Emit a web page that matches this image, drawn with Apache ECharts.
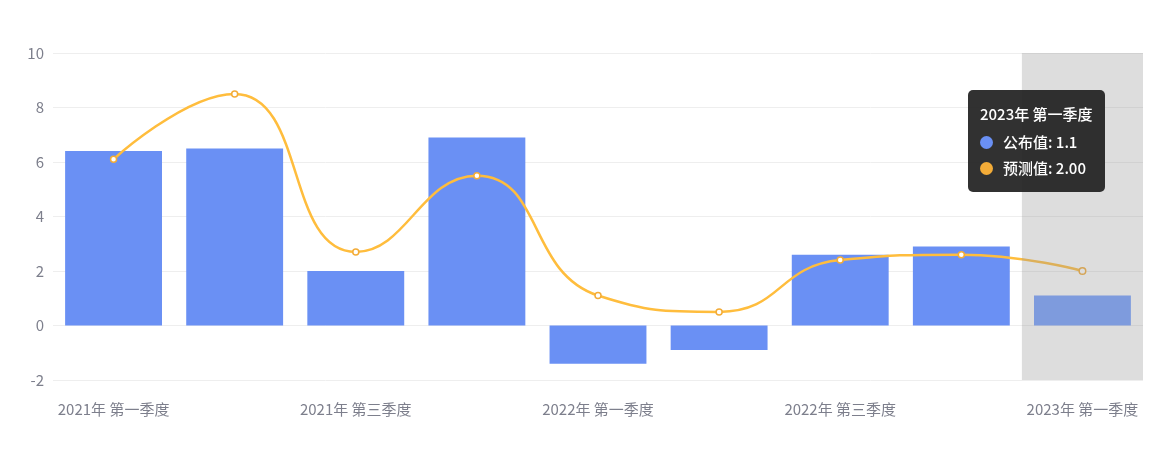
<!DOCTYPE html>
<html>
<head>
<meta charset="utf-8">
<script src="https://cdn.jsdelivr.net/npm/echarts@6/dist/echarts.min.js"></script>
<style>
    html, body { margin: 0; padding: 0; background: #fff; }
    #main { width: 1170px; height: 450px; }
</style>
</head>
<body>
<div id="main"></div>
<script type="text/javascript">
    // 季度
    var quarters = ['2021年 第一季度', '2021年 第二季度', '2021年 第三季度', '2021年 第四季度',
        '2022年 第一季度', '2022年 第二季度', '2022年 第三季度', '2022年 第四季度', '2023年 第一季度'];
    // 公布值
    var published = [6.4, 6.5, 2.0, 6.9, -1.4, -0.9, 2.6, 2.9, 1.1];
    // 预测值
    var forecast = [6.1, 8.5, 2.7, 5.5, 1.1, 0.5, 2.4, 2.6, 2.0];
    var yTicks = { min: -2, max: 10, interval: 2 };

    var blue = '#6a90f4';
    var orange = '#f3ac38';
    var font = '"Noto Sans CJK SC", "Noto Sans", sans-serif';

    function dot(color) {
        return '<span style="display:inline-block;width:13px;height:13px;border-radius:50%;background:' +
            color + ';margin-right:10px;vertical-align:-1px;"></span>';
    }

    var myChart = echarts.init(document.getElementById('main'));
    var option = {
        animation: false,
        textStyle: { fontFamily: font },
        grid: { left: 53, right: 27, top: 53, bottom: 70 },
        tooltip: {
            trigger: 'axis',
            axisPointer: { type: 'shadow', shadowStyle: { color: 'rgba(150,150,150,0.32)' } },
            backgroundColor: 'rgba(36,36,36,0.94)',
            borderWidth: 0,
            padding: [11, 12, 11, 12],
            position: [968, 90],
            textStyle: { color: '#fff', fontSize: 15, fontFamily: font },
            extraCssText: 'border-radius:5px;box-shadow:none;line-height:26px;font-weight:500;',
            formatter: function (params) {
                var colors = [blue, orange];
                var s = '<div style="margin-bottom:2px;">' + params[0].name + '</div>';
                params.forEach(function (p) {
                    var v = p.seriesIndex === 1 ? Number(p.value).toFixed(2) : p.value;
                    s += '<div>' + dot(colors[p.seriesIndex]) + p.seriesName + ': ' + v + '</div>';
                });
                return s;
            }
        },
        xAxis: {
            type: 'category',
            data: quarters,
            axisLine: { show: false, onZero: false },
            axisTick: { show: false },
            axisLabel: { interval: 1, color: '#7d7f8c', fontSize: 15, margin: 22 }
        },
        yAxis: {
            type: 'value',
            min: yTicks.min,
            max: yTicks.max,
            interval: yTicks.interval,
            axisLabel: { color: '#7d7f8c', fontSize: 15, margin: 9 },
            splitLine: { lineStyle: { color: '#eeeeee' } }
        },
        series: [
            {
                name: '公布值',
                type: 'bar',
                data: published,
                barWidth: '80%',
                itemStyle: { color: blue }
            },
            {
                name: '预测值',
                type: 'line',
                data: forecast,
                smooth: true,
                symbol: 'circle',
                symbolSize: 6,
                itemStyle: { color: '#fff', borderColor: orange, borderWidth: 1.5 },
                lineStyle: { color: orange, width: 2.5 },
                z: 3
            }
        ]
    };
    myChart.setOption(option);
    myChart.dispatchAction({ type: 'showTip', seriesIndex: 0, dataIndex: 8 });
</script>
</body>
</html>
